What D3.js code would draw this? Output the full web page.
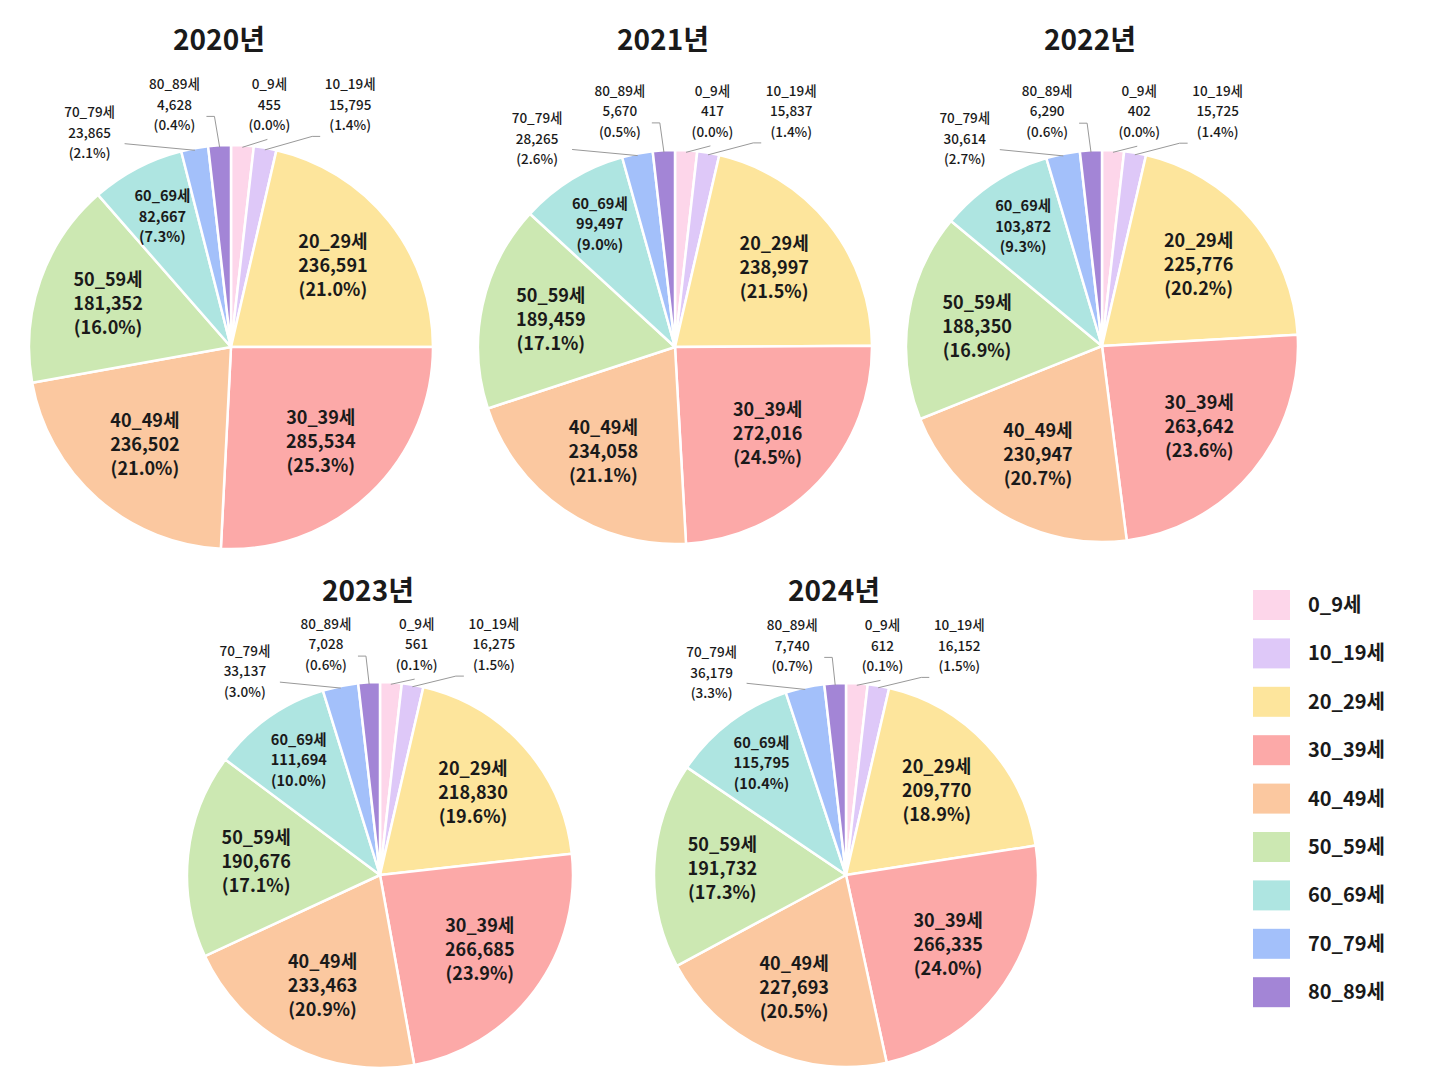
<!DOCTYPE html>
<html>
<head>
<meta charset="utf-8">
<script src="https://cdn.jsdelivr.net/npm/d3@7"></script>
<style>
  body { margin: 0; background: #fff; }
  text { font-family: "Noto Sans CJK KR", "Noto Sans", sans-serif; fill: #1a1a1a; }
</style>
</head>
<body>
<div id="chart"></div>
<script>
// age groups, one per slice
const ageGroups = ["0_9세", "10_19세", "20_29세", "30_39세", "40_49세", "50_59세", "60_69세", "70_79세", "80_89세"];
const years = ["2020년", "2021년", "2022년", "2023년", "2024년"];

const values2020 = [455, 15795, 236591, 285534, 236502, 181352, 82667, 23865, 4628];
const values2021 = [417, 15837, 238997, 272016, 234058, 189459, 99497, 28265, 5670];
const values2022 = [402, 15725, 225776, 263642, 230947, 188350, 103872, 30614, 6290];
const values2023 = [561, 16275, 218830, 266685, 233463, 190676, 111694, 33137, 7028];
const values2024 = [612, 16152, 209770, 266335, 227693, 191732, 115795, 36179, 7740];

const pcts2020 = ["0.0%", "1.4%", "21.0%", "25.3%", "21.0%", "16.0%", "7.3%", "2.1%", "0.4%"];
const pcts2021 = ["0.0%", "1.4%", "21.5%", "24.5%", "21.1%", "17.1%", "9.0%", "2.6%", "0.5%"];
const pcts2022 = ["0.0%", "1.4%", "20.2%", "23.6%", "20.7%", "16.9%", "9.3%", "2.7%", "0.6%"];
const pcts2023 = ["0.1%", "1.5%", "19.6%", "23.9%", "20.9%", "17.1%", "10.0%", "3.0%", "0.6%"];
const pcts2024 = ["0.1%", "1.5%", "18.9%", "24.0%", "20.5%", "17.3%", "10.4%", "3.3%", "0.7%"];

const colors = ["#fdd6ea", "#dec8f8", "#fde59c", "#fca9a8", "#fbc8a0", "#cce8b2", "#aee5e1", "#a3c0fa", "#a385d6"];

const width = 1448, height = 1086;
const svg = d3.select("#chart").append("svg").attr("width", width).attr("height", height);

// where each pie sits
const pies = [
  { cx: 231, cy: 347, r: 202, titleY: 50, values: values2020, pcts: pcts2020 },
  { cx: 675, cy: 347, r: 197, titleY: 50, values: values2021, pcts: pcts2021 },
  { cx: 1102, cy: 346, r: 196, titleY: 50, values: values2022, pcts: pcts2022 },
  { cx: 380, cy: 875, r: 193, titleY: 601, values: values2023, pcts: pcts2023 },
  { cx: 846, cy: 875, r: 192, titleY: 601, values: values2024, pcts: pcts2024 }
];

// small slices get their labels outside, spread along the top
// tx/ty = first line of text (in radius units), ex/ey = end of leader line (px from text)
const outside = {
  0: { tx: 0.19, ty: -1.30, ex: -2, ey: 55, h: 0 },
  1: { tx: 0.59, ty: -1.30, ex: -30, ey: 52, h: -8 },
  8: { tx: -0.28, ty: -1.30, ex: 32, ey: 32, h: 8 },
  7: { tx: -0.70, ty: -1.16, ex: 35, ey: 31, h: 0 }
};

const minAngle = 6.5 * Math.PI / 180;
const fmt = d3.format(",");

function pieLayout(values) {
  const total = d3.sum(values);
  const full = 2 * Math.PI;
  const small = values.map(v => v / total * full < minAngle);
  const nSmall = small.filter(Boolean).length;
  const restSum = d3.sum(values.filter((v, i) => !small[i]));
  const minWeight = minAngle * restSum / (full - nSmall * minAngle);
  return d3.pie().sort(null).value((v, i) => small[i] ? minWeight : v)(values);
}

pies.forEach((p, pi) => {
  const g = svg.append("g").attr("transform", `translate(${p.cx},${p.cy})`);
  const arcs = pieLayout(p.values);
  const arc = d3.arc().innerRadius(0).outerRadius(p.r);

  g.selectAll("path")
    .data(arcs)
    .join("path")
    .attr("d", arc)
    .attr("fill", (d, i) => colors[i])
    .attr("stroke", "#fff")
    .attr("stroke-width", 2.5)
    .attr("stroke-linejoin", "round");

  svg.append("text")
    .attr("x", p.cx - 12)
    .attr("y", p.titleY)
    .attr("text-anchor", "middle")
    .attr("font-size", 28)
    .attr("font-weight", 700)
    .text(years[pi]);

  arcs.forEach((d, i) => {
    const lines = [ageGroups[i], fmt(p.values[i]), `(${p.pcts[i]})`];
    const mid = (d.startAngle + d.endAngle) / 2;
    if (outside[i]) {
      const o = outside[i];
      const tx = o.tx * p.r, ty = o.ty * p.r;
      const ex = tx + o.ex, ey = ty + o.ey;
      const pts = [
        [Math.sin(mid) * (p.r - 2), -Math.cos(mid) * (p.r - 2)],
        [ex + o.h, ey],
        [ex, ey]
      ];
      g.append("path")
        .attr("d", d3.line()(pts))
        .attr("fill", "none")
        .attr("stroke", "#999")
        .attr("stroke-width", 1);
      const t = g.append("text")
        .attr("text-anchor", "middle")
        .attr("font-size", 13.5)
        .attr("font-weight", 500);
      lines.forEach((l, li) => t.append("tspan")
        .attr("x", tx).attr("y", ty + li * 20.5).attr("dy", "0.35em").text(l));
    } else {
      const isMid = i === 6;
      const k = isMid ? 0.73 : 0.645;
      const fs = isMid ? 14.5 : 18;
      const lh = isMid ? 20.5 : 24;
      const x = Math.sin(mid) * p.r * k, y = -Math.cos(mid) * p.r * k;
      const t = g.append("text")
        .attr("text-anchor", "middle")
        .attr("font-size", fs)
        .attr("font-weight", 600);
      lines.forEach((l, li) => t.append("tspan")
        .attr("x", x).attr("y", y + (li - 1) * lh).attr("dy", "0.35em").text(l));
    }
  });
});

// legend
const legend = svg.append("g").attr("transform", "translate(1253,590)");
const item = legend.selectAll("g")
  .data(ageGroups)
  .join("g")
  .attr("transform", (d, i) => `translate(0,${i * 48.4})`);
item.append("rect")
  .attr("width", 37).attr("height", 30)
  .attr("fill", (d, i) => colors[i]);
item.append("text")
  .attr("x", 55).attr("y", 15).attr("dy", "0.35em")
  .attr("font-size", 20).attr("font-weight", 600)
  .text(d => d);
</script>
</body>
</html>
